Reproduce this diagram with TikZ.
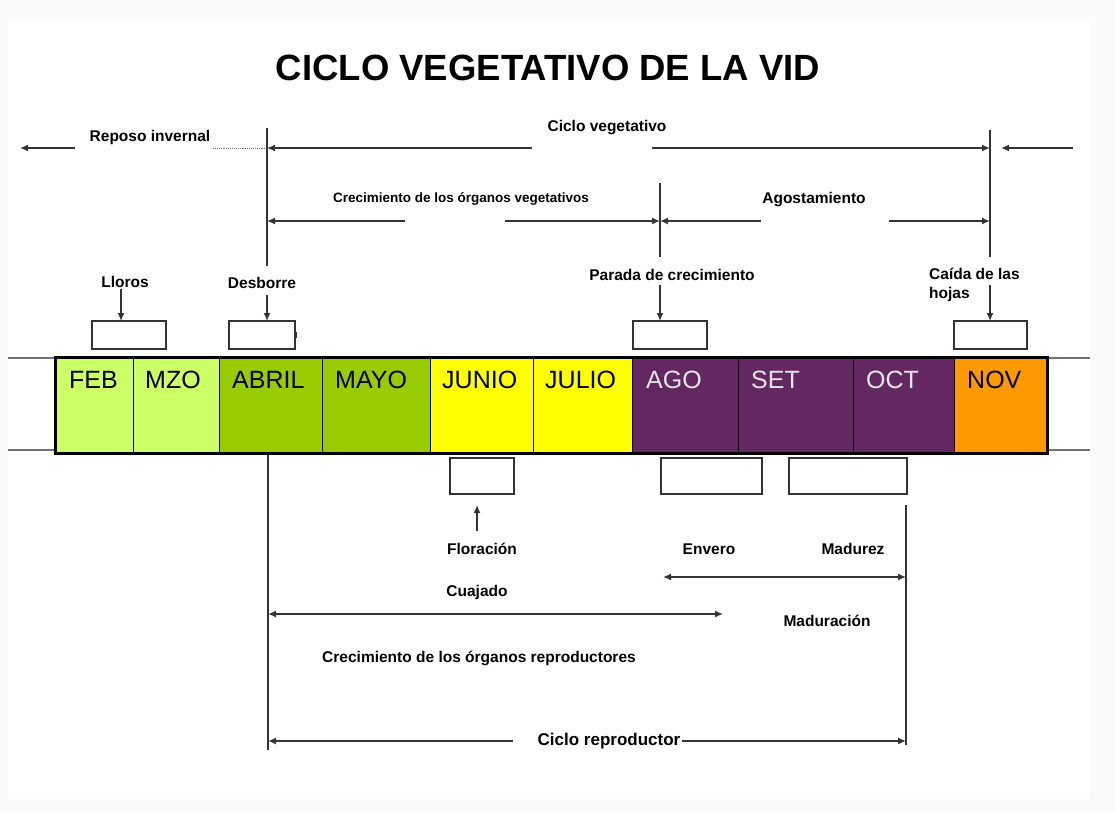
\documentclass[tikz,border=0pt]{standalone}
\usepackage{fontspec}
\setmainfont{Liberation Sans}
\usetikzlibrary{arrows.meta}
\definecolor{lgreen}{HTML}{CCFF66}
\definecolor{dgreen}{HTML}{99CC00}
\definecolor{yel}{HTML}{FFFF00}
\definecolor{purp}{HTML}{632862}
\definecolor{orng}{HTML}{FF9900}
\definecolor{ln}{HTML}{333333}
\definecolor{pagebg}{HTML}{FAFAFA}
\begin{document}
\begin{tikzpicture}[x=1pt,y=-1pt,
  lbl/.style={font=\fontsize{15.5}{19}\selectfont\bfseries, inner sep=0pt, text=black},
  conn/.style={draw=ln, line width=1.5pt},
  arr/.style={conn, -{Latex[length=8pt,width=7pt]}},
  darr/.style={conn, {Latex[length=8pt,width=7pt]}-{Latex[length=8pt,width=7pt]}},
  evbox/.style={draw=ln, line width=1.3pt, fill=white, inner sep=0pt},
  month/.style={draw=black, line width=0.8pt, inner sep=0pt, minimum height=95pt},
  mtext/.style={font=\fontsize{25}{28}\selectfont, anchor=base west, inner sep=0pt}]
% page
\fill[pagebg] (0,0) rectangle (1115,812);
\fill[white] (8,21) rectangle (1090,799);
\useasboundingbox (0,0) rectangle (1115,812);

% title
\node[font=\fontsize{36.5}{40}\selectfont\bfseries] (title) at (548,68) {CICLO VEGETATIVO DE LA VID};

% ---------- top row ----------
\node[lbl] (reposo) at (150,137) {Reposo invernal};
\node[lbl] (ciclov) at (607,128) {Ciclo vegetativo};
\coordinate (rp0) at (75,148);
\coordinate (rp1) at (20,148);
\draw[arr] (rp0) -- (rp1);
\coordinate (dot0) at (213,148);
\coordinate (A148) at (267,148);
\draw[ln!70, line width=0.9pt, densely dotted] (dot0) -- (A148);
\coordinate (Atop) at (267,128);
\coordinate (Abot) at (267,266);
\draw[conn] (Atop) -- (Abot);
\coordinate (cv0) at (532,148);
\draw[arr] (cv0) -- (A148);
\coordinate (cv1) at (652,148);
\coordinate (C148) at (990,148);
\draw[arr] (cv1) -- (C148);
\coordinate (Ctop) at (990,130);
\coordinate (Cbot) at (990,257);
\draw[conn] (Ctop) -- (Cbot);
\coordinate (rr0) at (1073,148);
\coordinate (rr1) at (1001,148);
\draw[arr] (rr0) -- (rr1);

% ---------- second row ----------
\node[lbl, font=\fontsize{13.5}{16}\selectfont\bfseries] (crecv) at (461,199) {Crecimiento de los órganos vegetativos};
\node[lbl] (agost) at (814,200) {Agostamiento};
\coordinate (Btop) at (660,183);
\coordinate (Bbot) at (660,257);
\draw[conn] (Btop) -- (Bbot);
\coordinate (A221) at (267,221);
\coordinate (B221) at (660,221);
\coordinate (cr0) at (405,221);
\coordinate (cr1) at (505,221);
\coordinate (ag0) at (761,221);
\coordinate (ag1) at (889,221);
\coordinate (C221) at (990,221);
\draw[arr] (cr0) -- (A221);
\draw[arr] (cr1) -- (B221);
\draw[arr] (ag0) -- (B221);
\draw[arr] (ag1) -- (C221);

% ---------- event labels above ----------
\node[evbox, minimum width=74pt, minimum height=28pt] (b1) at (129,335) {};
\node[evbox, minimum width=66pt, minimum height=28pt] (b2) at (262,335) {};
\node[evbox, minimum width=74pt, minimum height=28pt] (b3) at (670,335) {};
\node[evbox, minimum width=73pt, minimum height=28pt] (b4) at (990.5,335) {};
\coordinate (tick0) at (296,332);
\coordinate (tick1) at (296,338);
\draw[ln, line width=1.2pt] (tick0) -- (tick1);

\node[lbl] (lloros) at (125,282) {Lloros};
\node[lbl] (desb) at (262,283) {Desborre};
\node[lbl] (parada) at (672,275) {Parada de crecimiento};
\node[lbl, align=left, anchor=north west] (caida) at (929,268) {Caída de las\\hojas};
\coordinate (ll0) at (121,289);
\coordinate (ll1) at (121,321);
\draw[arr] (ll0) -- (ll1);
\coordinate (de0) at (267,295);
\coordinate (de1) at (267,321);
\draw[arr] (de0) -- (de1);
\coordinate (pa0) at (660,285);
\coordinate (pa1) at (660,321);
\draw[arr] (pa0) -- (pa1);
\coordinate (ca0) at (990,285);
\coordinate (ca1) at (990,321);
\draw[arr] (ca0) -- (ca1);

% ---------- month bar ----------
\coordinate (hl0) at (8,358);
\coordinate (hl1) at (1090,358);
\coordinate (hl2) at (8,450);
\coordinate (hl3) at (1090,450);
\draw[black!55, line width=1.2pt] (hl0) -- (hl1);
\draw[black!55, line width=1.2pt] (hl2) -- (hl3);

\node[month, fill=lgreen, minimum width=77pt]  (feb) at (94.5,405.5) {};
\node[month, fill=lgreen, minimum width=86pt]  (mzo) at (176,405.5) {};
\node[month, fill=dgreen, minimum width=103pt] (abr) at (270.5,405.5) {};
\node[month, fill=dgreen, minimum width=108pt] (may) at (376,405.5) {};
\node[month, fill=yel, minimum width=103pt]    (jun) at (481.5,405.5) {};
\node[month, fill=yel, minimum width=99pt]     (jul) at (582.5,405.5) {};
\node[month, fill=purp, minimum width=106pt]   (ago) at (685,405.5) {};
\node[month, fill=purp, minimum width=115pt]   (set) at (795.5,405.5) {};
\node[month, fill=purp, minimum width=101pt]   (oct) at (903.5,405.5) {};
\node[month, fill=orng, minimum width=93pt]    (nov) at (1000.5,405.5) {};
\draw[black, line width=2.6pt] (feb.north west) rectangle (nov.south east);

\node[mtext] (tfeb) at (69,388) {FEB};
\node[mtext] (tmzo) at (145,388) {MZO};
\node[mtext] (tabr) at (232,388) {ABRIL};
\node[mtext] (tmay) at (335,388) {MAYO};
\node[mtext] (tjun) at (442,388) {JUNIO};
\node[mtext] (tjul) at (545,388) {JULIO};
\node[mtext, text=white!90!black] (tago) at (646,388) {AGO};
\node[mtext, text=white!90!black] (tset) at (751,388) {SET};
\node[mtext, text=white!90!black] (toct) at (866,388) {OCT};
\node[mtext] (tnov) at (967,388) {NOV};

% ---------- below the bar ----------
\node[evbox, minimum width=64pt, minimum height=36pt] (b5) at (482,476) {};
\node[evbox, minimum width=101pt, minimum height=36pt] (b6) at (711.5,476) {};
\node[evbox, minimum width=118pt, minimum height=36pt] (b7) at (848,476) {};

\coordinate (Ltop) at (268,455);
\coordinate (Lbot) at (268,750);
\draw[conn] (Ltop) -- (Lbot);
\coordinate (Rtop) at (906,505);
\coordinate (Rbot) at (906,745);
\draw[conn] (Rtop) -- (Rbot);

\coordinate (fl0) at (477,531);
\coordinate (fl1) at (477,505);
\draw[arr] (fl0) -- (fl1);

\node[lbl] (flor) at (482,549) {Floración};
\node[lbl] (env) at (709,549) {Envero};
\node[lbl] (madz) at (853,549) {Madurez};
\coordinate (en0) at (663,577);
\coordinate (en1) at (906,577);
\draw[darr] (en0) -- (en1);
\node[lbl] (cuaj) at (477,592) {Cuajado};
\coordinate (cu0) at (268,614);
\coordinate (cu1) at (723,614);
\draw[darr] (cu0) -- (cu1);
\node[lbl] (madc) at (827,621) {Maduración};
\node[lbl] (crecr) at (479,658) {Crecimiento de los órganos reproductores};
\node[lbl, font=\fontsize{17}{20}\selectfont\bfseries] (cicr) at (609,741) {Ciclo reproductor};
\coordinate (cr0b) at (513,741);
\coordinate (cr1b) at (268,741);
\draw[arr] (cr0b) -- (cr1b);
\coordinate (cr2b) at (682,741);
\coordinate (cr3b) at (906,741);
\draw[arr] (cr2b) -- (cr3b);
\end{tikzpicture}
\end{document}
